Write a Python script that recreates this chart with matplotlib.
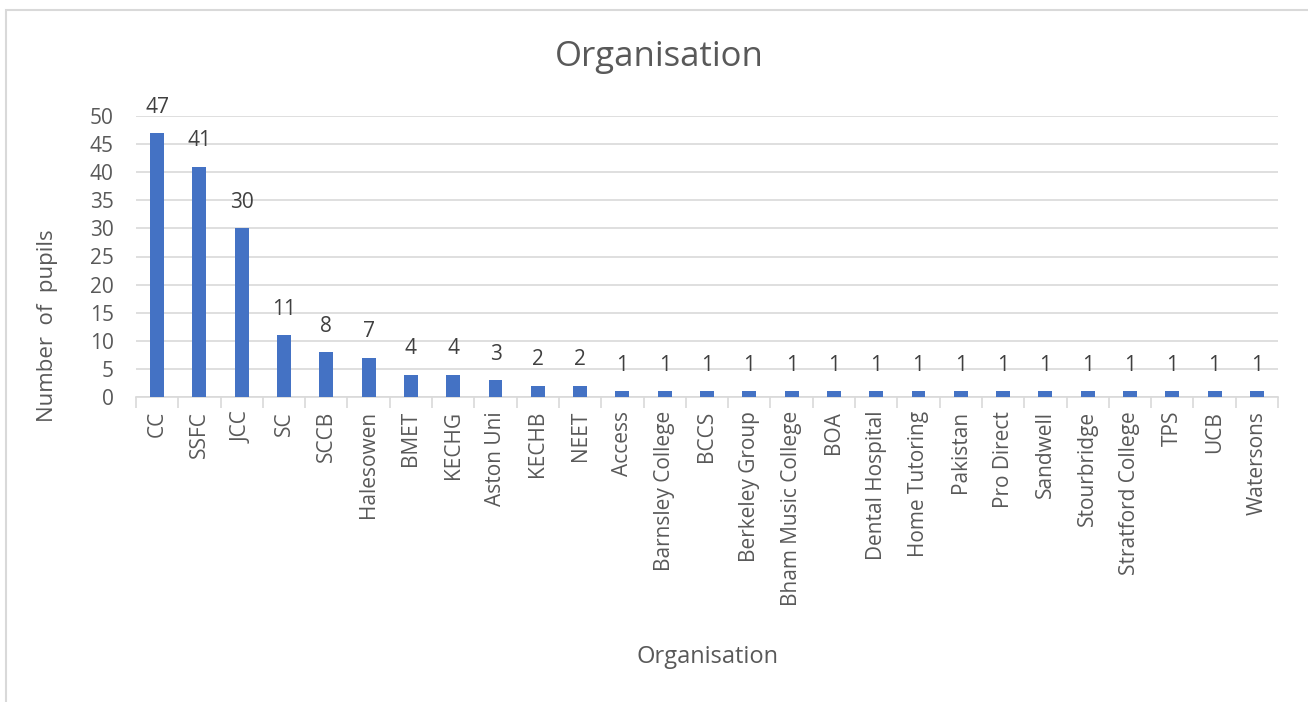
import matplotlib.pyplot as plt
from matplotlib.patches import Rectangle
from matplotlib.ticker import FixedLocator

plt.rcParams['font.family'] = ['Open Sans', 'DejaVu Sans']

organisations = ['CC', 'SSFC', 'JCC', 'SC', 'SCCB', 'Halesowen', 'BMET', 'KECHG',
                 'Aston Uni', 'KECHB', 'NEET', 'Access', 'Barnsley College', 'BCCS',
                 'Berkeley Group', 'Bham Music College', 'BOA', 'Dental Hospital',
                 'Home Tutoring', 'Pakistan', 'Pro Direct', 'Sandwell', 'Stourbridge',
                 'Stratford College', 'TPS', 'UCB', 'Watersons']
pupils = [47, 41, 30, 11, 8, 7, 4, 4, 3, 2, 2, 1, 1, 1, 1, 1, 1, 1, 1, 1, 1, 1, 1, 1, 1, 1, 1]
y_ticks = [0, 5, 10, 15, 20, 25, 30, 35, 40, 45, 50]

text_col = '#595959'
grid_col = '#D9D9D9'

fig = plt.figure(figsize=(13.08, 7.02), dpi=100)
ax = fig.add_axes([136 / 1308, 1 - 397 / 702, (1278 - 136) / 1308, (397 - 116) / 702])

# chart border (only left and top visible in the crop)
fig.patches.append(Rectangle((6 / 1308, -0.1), 1.2, (702 - 10) / 702 + 0.1,
                             transform=fig.transFigure, fill=False,
                             edgecolor=grid_col, lw=1.5))

x = range(len(organisations))
ax.bar(x, pupils, width=0.33, color='#4472C4', zorder=3)
for xi, v in zip(x, pupils):
    ax.annotate(str(v), (xi, v), xytext=(0, 11), textcoords='offset points',
                ha='center', va='bottom', fontsize=15, color='#404040')

ax.set_xlim(-0.5, len(organisations) - 0.5)
ax.set_ylim(0, 50)
ax.set_yticks(y_ticks)
ax.yaxis.grid(True, color=grid_col, lw=1.2, zorder=0)
ax.set_axisbelow(True)

ax.set_xticks(list(x))
ax.set_xticklabels(organisations, rotation=90, fontsize=15, color=text_col)
ax.xaxis.set_minor_locator(FixedLocator([i - 0.5 for i in range(len(organisations) + 1)]))
ax.tick_params(axis='x', which='major', length=0, pad=10)
ax.tick_params(axis='x', which='minor', length=8, color=grid_col, width=1.2)
ax.tick_params(axis='y', length=0, labelsize=15, labelcolor=text_col, pad=16)

for s in ['top', 'right', 'left']:
    ax.spines[s].set_visible(False)
ax.spines['bottom'].set_color(grid_col)
ax.spines['bottom'].set_linewidth(1.2)

fig.text(48 / 1308, 1 - 326 / 702, 'Number  of  pupils', rotation=90, ha='center',
         va='center', fontsize=16, color=text_col)
fig.text(707 / 1308, 1 - 657 / 702, 'Organisation', ha='center', va='center',
         fontsize=17, color=text_col)
fig.text(659 / 1308, 1 - 57 / 702, 'Organisation', ha='center', va='center',
         fontsize=25, color=text_col)

fig.savefig('out.png', dpi=100)
